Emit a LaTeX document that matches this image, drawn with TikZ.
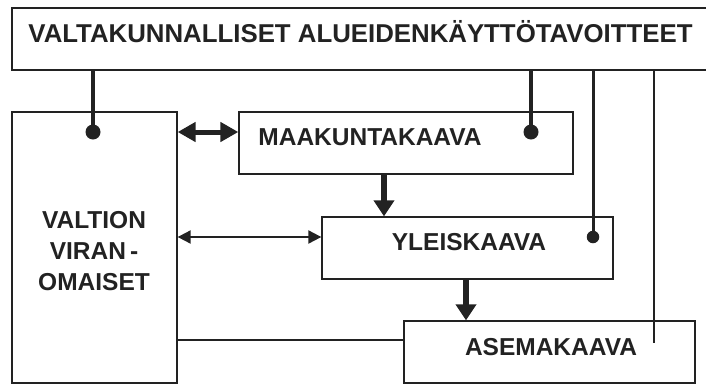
\documentclass[tikz,border=0pt]{standalone}
\usepackage{fontspec}
\setmainfont{Liberation Sans}
\usetikzlibrary{arrows.meta}
\definecolor{ink}{HTML}{222222}
\begin{document}
\begin{tikzpicture}[x=1pt,y=-1pt,
  box/.style={draw=ink, line width=1.3pt, inner sep=0pt, rectangle},
  lbl/.style={text=ink, inner sep=0pt, font=\bfseries\fontsize{24.5}{31}\selectfont},
  toplbl/.style={text=ink, inner sep=0pt, anchor=base, font=\bfseries\fontsize{25.8}{30}\selectfont},
  heavy/.style={draw=ink, line width=4pt},
  medium/.style={draw=ink, line width=3pt},
  thin/.style={draw=ink, line width=1.1pt},
  dotc/.style={circle, fill=ink, inner sep=0pt, minimum size=#1},
  bigarrow/.style={draw=ink, line width=6pt, -{Triangle[width=20pt,length=16pt]}},
  dblthick/.style={draw=ink, line width=5pt, {Triangle[width=19pt,length=18pt]}-{Triangle[width=19pt,length=18pt]}},
  dblthin/.style={draw=ink, line width=2pt, {Triangle[width=13pt,length=13pt]}-{Triangle[width=13pt,length=13pt]}}
]
\useasboundingbox (0,0) rectangle (706,386);
\fill[white] (0,0) rectangle (706,386);
\clip (0,0) rectangle (706,386);

% boxes
\node[box, minimum width=702pt, minimum height=62pt] (top) at (363,39) {};
\node[box, minimum width=165pt, minimum height=271pt] (valtion) at (94.5,247.5) {};
\node[box, minimum width=334pt, minimum height=62pt] (maak) at (406,143) {};
\node[box, minimum width=291pt, minimum height=62pt] (yleis) at (467.5,248) {};
\node[box, minimum width=291pt, minimum height=62pt] (asema) at (549.5,352) {};

% labels
\node[toplbl] (toptext) at (360.5,42) {VALTAKUNNALLISET ALUEIDENKÄYTTÖTAVOITTEET};
\node[lbl, align=center] (valtiontext) at (94,251) {VALTION\\VIRAN\,-\\OMAISET};
\node[lbl] (maaktext) at (370,137) {MAAKUNTAKAAVA};
\node[lbl] (yleistext) at (469,242) {YLEISKAAVA};
\node[lbl] (asematext) at (551,347) {ASEMAKAAVA};

% junction points
\node[dotc=15pt] (d1) at (93,132) {};
\node[dotc=15pt] (d2) at (531,132) {};
\node[dotc=12.5pt] (d3) at (593,237) {};
\coordinate (e4) at (654,343);
\coordinate (a1) at (384,0);
\coordinate (a2) at (466,0);
\coordinate (h1) at (0,132);
\coordinate (h2) at (0,237);
\coordinate (h3) at (0,340);

% connectors from the top box
\draw[heavy] (top.south -| d1) -- (d1.center);
\draw[heavy] (top.south -| d2) -- (d2.center);
\draw[medium] (top.south -| d3) -- (d3.center);
\draw[thin] (top.south -| e4) -- (e4);

% arrows between the plans
\draw[bigarrow] (maak.south -| a1) -- (yleis.north -| a1);
\draw[bigarrow] (yleis.south -| a2) -- (asema.north -| a2);

% links to the state authorities
\draw[dblthick] (valtion.east |- h1) -- (maak.west |- h1);
\draw[dblthin] (valtion.east |- h2) -- (yleis.west |- h2);
\draw[thin] (valtion.east |- h3) -- (asema.west |- h3);
\end{tikzpicture}
\end{document}
